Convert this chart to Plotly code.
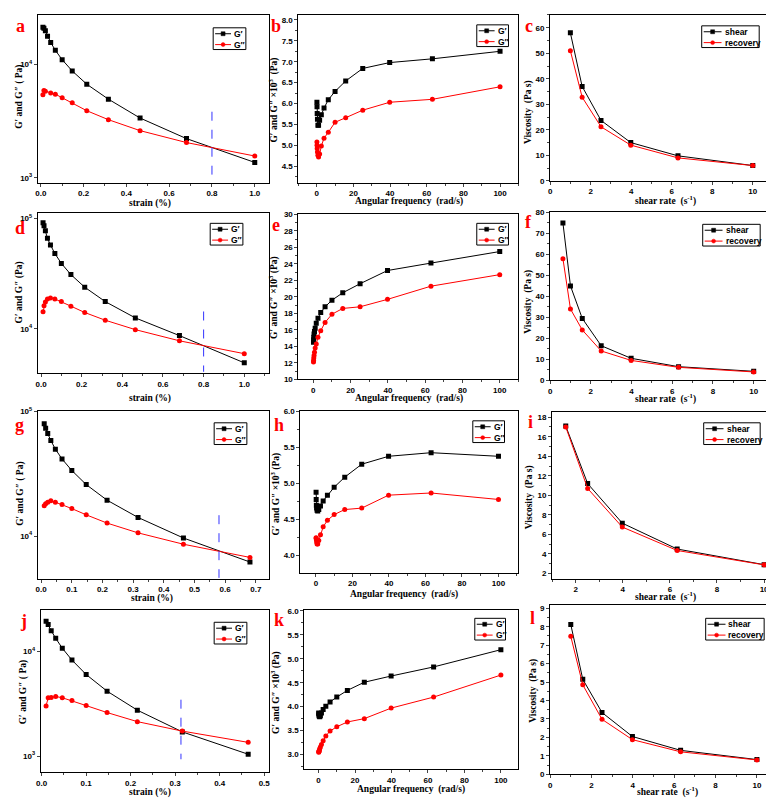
import plotly.graph_objects as go

W, H = 774, 798

# ---- data ----
strain = [0.01, 0.0147, 0.0215, 0.0316, 0.0464, 0.0681, 0.1, 0.147, 0.215, 0.316, 0.464, 0.681, 1.0]
freq = [0.1, 0.158, 0.251, 0.398, 0.631, 1.0, 1.58, 2.51, 3.98, 6.31, 10, 15.8, 25.1, 39.8, 63.1, 100]
rate = [1.0, 1.58, 2.51, 3.98, 6.31, 10]
rate_f = [0.63, 1.0, 1.58, 2.51, 3.98, 6.31, 10]
rate_i = [1.58, 2.51, 3.98, 6.31, 10]

a_g1 = [21200, 20800, 19800, 17700, 15600, 13300, 11000, 8750, 6690, 4940, 3370, 2220, 1370]
a_g2 = [5400, 5890, 5800, 5610, 5470, 5080, 4590, 3910, 3260, 2610, 2050, 1560]
a_g2_x = [0.01, 0.0147, 0.0215, 0.0464, 0.0681, 0.1, 0.147, 0.215, 0.316, 0.464, 0.681, 1.0]
a_cross_x = [0.8, 0.8]
a_cross_y = [3830, 1070]

b_g1 = [6.03, 5.92, 5.76, 5.62, 5.48, 5.48, 5.60, 5.73, 5.89, 6.09, 6.29, 6.54, 6.84, 6.98, 7.07, 7.25]
b_g2 = [5.08, 5.00, 4.92, 4.84, 4.76, 4.72, 4.79, 4.98, 5.17, 5.31, 5.55, 5.66, 5.84, 6.03, 6.10, 6.40]

c_shear = [58, 37, 23.7, 15, 9.8, 6.0]
c_rec = [51, 32.8, 21.2, 14, 9.0, 6.0]

d_g1 = [92000, 86000, 77600, 66300, 57700, 48300, 39300, 31100, 23900, 17700, 12600, 8710, 4930]
d_g2 = [14300, 16200, 17600, 18700, 19100, 18700, 17700, 16100, 14100, 12000, 9860, 7810, 5970]
d_cross_x = [0.8, 0.8]
d_cross_y = [14400, 4090]

e_g1 = [14.5, 14.8, 15.1, 15.5, 15.8, 16.2, 16.8, 17.4, 18.1, 18.8, 19.6, 20.5, 21.6, 23.2, 24.1, 25.5]
e_g2 = [12.1, 12.3, 12.6, 12.9, 13.3, 13.8, 14.3, 15.1, 15.9, 16.9, 17.9, 18.6, 18.8, 19.7, 21.3, 22.7]

f_shear = [75, 45, 29.5, 16.5, 10.5, 6.5, 4.3]
f_rec = [58, 34, 24, 14, 9.5, 6.2, 4.0]

g_strain = [0.01, 0.0147, 0.0215, 0.0316, 0.0464, 0.0681, 0.1, 0.147, 0.215, 0.316, 0.464, 0.681]
g_g1 = [79800, 73300, 66500, 58500, 49900, 41600, 33600, 25900, 19400, 14100, 9640, 6180]
g_g2 = [17500, 18200, 18700, 19200, 18700, 17900, 16600, 14800, 12700, 10600, 8590, 6730]
g_cross_x = [0.58, 0.58]
g_cross_y = [14700, 4610]

h_g1 = [4.88, 4.78, 4.70, 4.66, 4.63, 4.62, 4.64, 4.69, 4.76, 4.84, 4.95, 5.09, 5.27, 5.38, 5.43, 5.38]
h_g2 = [4.25, 4.24, 4.22, 4.19, 4.16, 4.16, 4.21, 4.29, 4.40, 4.49, 4.57, 4.64, 4.66, 4.84, 4.87, 4.78]

i_shear = [17.1, 11.2, 7.15, 4.5, 2.9]
i_rec = [17.0, 10.7, 6.75, 4.35, 2.88]

j_strain = [0.01, 0.0147, 0.0215, 0.0316, 0.0464, 0.0681, 0.1, 0.147, 0.215, 0.316, 0.464]
j_g1 = [19400, 18000, 15700, 13300, 10700, 8240, 6000, 4160, 2740, 1700, 1040]
j_g2 = [3010, 3600, 3620, 3700, 3600, 3380, 3030, 2600, 2130, 1730, 1350]
j_cross_x = [0.313, 0.313]
j_cross_y = [3450, 931]

k_g1 = [3.87, 3.85, 3.82, 3.80, 3.79, 3.81, 3.87, 3.94, 4.01, 4.10, 4.20, 4.34, 4.51, 4.64, 4.83, 5.19]
k_g2 = [3.05, 3.06, 3.07, 3.09, 3.12, 3.16, 3.21, 3.29, 3.39, 3.49, 3.58, 3.68, 3.75, 3.97, 4.20, 4.66]

l_shear = [8.12, 5.15, 3.35, 2.05, 1.3, 0.8]
l_rec = [7.48, 4.85, 2.98, 1.88, 1.22, 0.78]

STRAIN_T = "strain (%)"
FREQ_T = "Angular frequency  (rad/s)"
RATE_T = "shear rate  (s<sup>-1</sup>)"
GG_T = "G′ and G″ ( Pa)"
GX_T = "G′ and G″ ×10<sup>3</sup>  (Pa)"
VISC_T = "Viscosity  (Pa s)"

SERIF = "Liberation Serif"
SANS = "Liberation Sans"

# panels: letter, plot box (px: x0, x1, y0, y1), axis settings, titles, legend box (x, y, width)
panels = [
    dict(l="a", box=(25, 258, 2, 172), xr=[-0.014, 1.065], xd=0.2, xf=".1f",
         ylog=True, yr=[2.957, 4.435], yv=[1e3, 1e4], yt=["10<sup>3</sup>", "10<sup>4</sup>"],
         xt=STRAIN_T, yt_t=GG_T, lab=(1, 1), xtp=(138, 193), ytp=(7, 85), leg=(202, 15, 33),
         series=[(strain, a_g1, "G′"), (a_g2_x, a_g2, "G″")], cross=(a_cross_x, a_cross_y)),
    dict(l="b", box=(288, 510, 2, 172), xr=[-10, 110], xd=20, xf="d",
         yr=[4.1, 8.12], yd=0.5, yf=".1f",
         xt=FREQ_T, yt_t=GX_T, lab=(258, 1), xtp=(400, 191), ytp=(263, 88), leg=(468, 12, 32),
         series=[(freq, b_g1, "G′"), (freq, b_g2, "G″")]),
    dict(l="c", box=(542, 767, 2, 170), xr=[0, 11], xd=2, xf="d",
         yr=[0, 65], yd=10, yf="d",
         xt=RATE_T, yt_t=VISC_T, lab=(515, 1), xtp=(658, 190), ytp=(520, 100), leg=(695, 13, 58),
         series=[(rate, c_shear, "shear"), (rate, c_rec, "recovery")]),
    dict(l="d", box=(25, 258, 203, 365), xr=[-0.016, 1.12], xd=0.2, xf=".1f",
         ylog=True, yr=[3.597, 5.047], yv=[1e4, 1e5], yt=["10<sup>4</sup>", "10<sup>5</sup>"],
         xt=STRAIN_T, yt_t="G′ and G″ (Pa)", lab=(0, 206), xtp=(138, 390), ytp=(7, 283), leg=(199, 213, 33),
         series=[(strain, d_g1, "G′"), (strain, d_g2, "G″")], cross=(d_cross_x, d_cross_y)),
    dict(l="e", box=(288, 510, 204, 371), xr=[-8, 110], xd=20, xf="d",
         yr=[10, 30], yd=2, yf="d",
         xt=FREQ_T, yt_t="G′ and G″ ×10<sup>3</sup> (Pa)", lab=(259, 203), xtp=(400, 390), ytp=(263, 288), leg=(468, 213, 32),
         series=[(freq, e_g1, "G′"), (freq, e_g2, "G″")]),
    dict(l="f", box=(542, 768, 202, 372), xr=[0, 11], xd=2, xf="d",
         yr=[0, 80], yd=10, yf="d",
         xt=RATE_T, yt_t=VISC_T, lab=(515, 200), xtp=(658, 390), ytp=(520, 292), leg=(696, 214, 58),
         series=[(rate_f, f_shear, "shear"), (rate_f, f_rec, "recovery")]),
    dict(l="g", box=(25, 258, 403, 573), xr=[-0.011, 0.742], xd=0.1, xf=".1f",
         ylog=True, yr=[3.656, 5.005], yv=[1e4, 1e5], yt=["10<sup>4</sup>", "10<sup>5</sup>"],
         xt=STRAIN_T, yt_t=GG_T, lab=(0, 405), xtp=(140, 593), ytp=(8, 487), leg=(203, 415, 33),
         series=[(g_strain, g_g1, "G′"), (g_strain, g_g2, "G″")], cross=(g_cross_x, g_cross_y)),
    dict(l="h", box=(290, 510, 403, 567), xr=[-8.5, 110.9], xd=20, xf="d",
         yr=[3.76, 6.01], yd=0.5, yf=".1f",
         xt=FREQ_T, yt_t="G′ and G″ ×10<sup>3</sup> (Pa)", lab=(261, 405), xtp=(395, 589), ytp=(265, 487), leg=(464, 413, 32),
         series=[(freq, h_g1, "G′"), (freq, h_g2, "G″")]),
    dict(l="i", box=(544, 767, 404, 573), xr=[1.0, 10.38], xd=2, xf="d",
         yr=[1.45, 18.54], yd=2, yf="d",
         xt=RATE_T, yt_t=VISC_T, lab=(518, 402), xtp=(658, 591), ytp=(522, 490), leg=(697, 415, 57),
         series=[(rate_i, i_shear, "shear"), (rate_i, i_rec, "recovery")]),
    dict(l="j", box=(28, 258, 605, 769), xr=[-0.002, 0.51], xd=0.1, xf=".1f",
         ylog=True, yr=[2.844, 4.39], yv=[1e3, 1e4], yt=["10<sup>3</sup>", "10<sup>4</sup>"],
         xt=STRAIN_T, yt_t=GG_T, lab=(5, 604), xtp=(138, 789), ytp=(10, 688), leg=(203, 617, 33),
         series=[(j_strain, j_g1, "G′"), (j_strain, j_g2, "G″")], cross=(j_cross_x, j_cross_y)),
    dict(l="k", box=(294, 510, 605, 766), xr=[-7.8, 109.6], xd=20, xf="d",
         yr=[2.69, 6.01], yd=0.5, yf=".1f",
         xt=FREQ_T, yt_t="G′ and G″ ×10<sup>3</sup> (Pa)", lab=(261, 603), xtp=(402, 786), ytp=(265, 688), leg=(466, 613, 31),
         series=[(freq, k_g1, "G′"), (freq, k_g2, "G″")]),
    dict(l="l", box=(542, 767, 600, 771), xr=[0, 10.78], xd=2, xf="d",
         yr=[0, 9.15], yd=1, yf="d",
         xt=RATE_T, yt_t=VISC_T, lab=(520, 601), xtp=(660, 788), ytp=(525, 686), leg=(699, 613, 59),
         series=[(rate, l_shear, "shear"), (rate, l_rec, "recovery")]),
]

fig = go.Figure()
layout = dict(width=W, height=H, margin=dict(l=0, r=0, t=0, b=0), showlegend=False,
              paper_bgcolor="white", plot_bgcolor="white", annotations=[], shapes=[])

tickfont = dict(family=SANS, size=8, color="black", weight="bold")
styles = [dict(color="black", symbol="square"), dict(color="red", symbol="circle")]


def px(x, y):
    return x / W, 1 - y / H


for n, p in enumerate(panels, start=1):
    sfx = "" if n == 1 else str(n)
    x0, x1, y0, y1 = p["box"]
    xa = dict(domain=[x0 / W, x1 / W], range=p["xr"], dtick=p["xd"], tick0=0,
              tickformat=p["xf"], anchor="y" + sfx, showline=True, linecolor="black",
              linewidth=1, mirror=True, ticks="outside", ticklen=3, tickwidth=1,
              tickfont=tickfont, showgrid=False, zeroline=False,
              minor=dict(ticks="outside", ticklen=2, dtick=p["xd"] / 2, tick0=0,
                         showgrid=False))
    ya = dict(domain=[1 - y1 / H, 1 - y0 / H], range=p["yr"], anchor="x" + sfx,
              showline=True, linecolor="black", linewidth=1, mirror=True,
              ticks="outside", ticklen=3, tickwidth=1, tickfont=tickfont,
              showgrid=False, zeroline=False)
    if p.get("ylog"):
        ya.update(type="log", tickvals=p["yv"], ticktext=p["yt"])
    else:
        ya.update(dtick=p["yd"], tick0=0, tickformat=p["yf"],
                  minor=dict(ticks="outside", ticklen=2, dtick=p["yd"] / 2, tick0=0,
                             showgrid=False))
    layout["xaxis" + sfx] = xa
    layout["yaxis" + sfx] = ya

    for (xs, ys, name), st in zip(p["series"], styles):
        fig.add_trace(go.Scatter(
            x=xs, y=ys, name=name, mode="lines+markers",
            line=dict(color=st["color"], width=1),
            marker=dict(color=st["color"], symbol=st["symbol"], size=5),
            xaxis="x" + sfx, yaxis="y" + sfx))

    if "cross" in p:
        cx, cy = p["cross"]
        fig.add_trace(go.Scatter(
            x=cx, y=cy, mode="lines",
            line=dict(color="#3333ff", width=1, dash="dash"),
            xaxis="x" + sfx, yaxis="y" + sfx))

    # small Origin-style legend box
    lx, ly, lw = p["leg"]
    bx0, by0 = px(lx, ly)
    bx1, by1 = px(lx + lw, ly + 22)
    layout["shapes"].append(dict(type="rect", xref="paper", yref="paper",
                                 x0=bx0, x1=bx1, y0=by1, y1=by0,
                                 line=dict(color="black", width=1), fillcolor="white"))
    seg = 16 if lw < 40 else 18
    for k, ((_, _, name), st) in enumerate(zip(p["series"], styles)):
        yy = ly + 6 + 11 * k
        ax0, ayy = px(lx + 2, yy)
        ax1, _ = px(lx + 2 + seg, yy)
        layout["shapes"].append(dict(type="line", xref="paper", yref="paper",
                                     x0=ax0, x1=ax1, y0=ayy, y1=ayy,
                                     line=dict(color=st["color"], width=1)))
        mx0, my0 = px(lx + 2 + seg / 2 - 2, yy - 2)
        mx1, my1 = px(lx + 2 + seg / 2 + 2, yy + 2)
        layout["shapes"].append(dict(type="rect" if st["symbol"] == "square" else "circle",
                                     xref="paper", yref="paper",
                                     x0=mx0, x1=mx1, y0=my1, y1=my0,
                                     line=dict(color=st["color"], width=0.5),
                                     fillcolor=st["color"]))
        tx, ty = px(lx + 3 + seg, yy)
        layout["annotations"].append(dict(
            text=name, x=tx, y=ty, xref="paper", yref="paper", xanchor="left",
            yanchor="middle", showarrow=False,
            font=dict(family=SANS, size=8.5, color="black", weight="bold")))

    # panel letter
    layout["annotations"].append(dict(
        text=p["l"], x=p["lab"][0] / W, y=1 - p["lab"][1] / H, xref="paper", yref="paper",
        xanchor="left", yanchor="top", showarrow=False,
        font=dict(family=SERIF, size=18, color="red", weight="bold")))
    # axis titles
    layout["annotations"].append(dict(
        text=p["xt"], x=p["xtp"][0] / W, y=1 - p["xtp"][1] / H, xref="paper", yref="paper",
        xanchor="center", yanchor="middle", showarrow=False,
        font=dict(family=SERIF, size=9.5, color="black", weight="bold")))
    layout["annotations"].append(dict(
        text=p["yt_t"], x=p["ytp"][0] / W, y=1 - p["ytp"][1] / H, xref="paper", yref="paper",
        xanchor="center", yanchor="middle", textangle=-90, showarrow=False,
        font=dict(family=SERIF, size=9.5, color="black", weight="bold")))

fig.update_layout(**layout)
fig.write_html("out.html")
